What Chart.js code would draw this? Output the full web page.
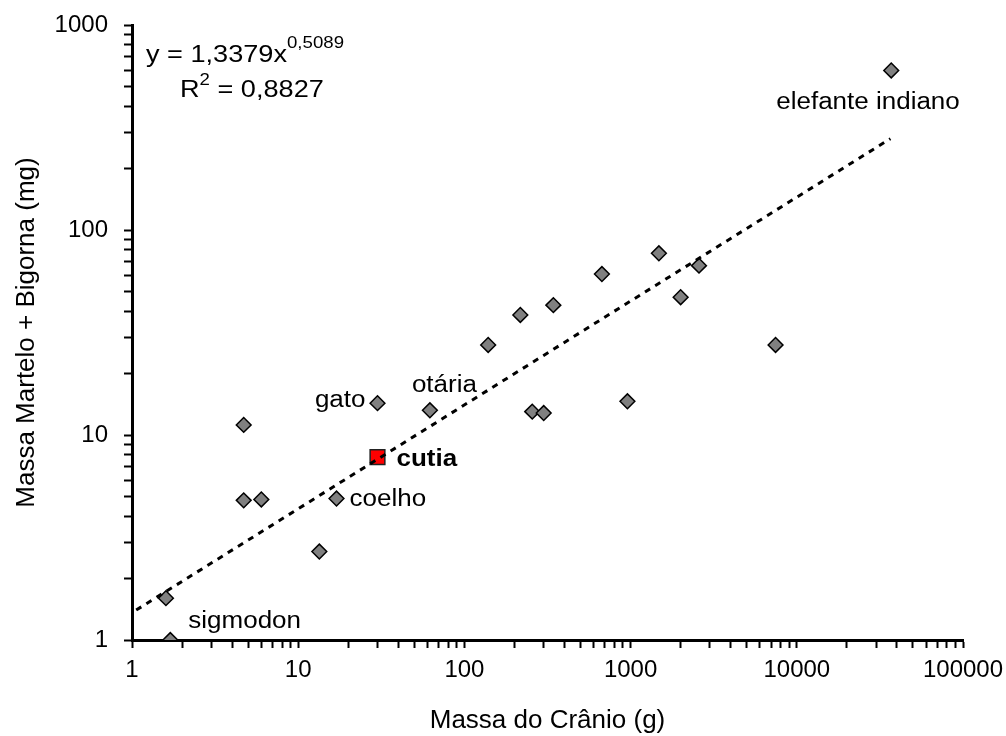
<html>
  <head>
    <script src="https://cdn.jsdelivr.net/npm/chart.js@4"></script>
    <title>Massa do Crânio x Massa Martelo + Bigorna</title>
    <style>
      body { margin: 0; background: #fff; }
    </style>
  </head>
  <body>
<canvas id="myChart" width="1006" height="736"></canvas>

    <script>
// massa do crânio (g) e massa martelo + bigorna (mg)
const skullMass   = [1.7, 1.6, 4.7, 4.7, 6.0, 13.4, 17, 30, 62, 139, 217, 343, 672, 1480, 2000, 2580, 7450, 256, 300, 957, 37000];
const ossicleMass = [1.0, 1.6, 11.2, 4.8, 4.85, 2.7, 4.9, 14.3, 13.2, 27.5, 38.5, 43, 61, 77, 47, 67, 27.5, 13, 12.8, 14.6, 600];

// cutia (ponto em destaque)
const cutiaSkull   = [30];
const cutiaOssicle = [7.8];

// linha de tendência (potência) - pontas
const trendX = [1.06, 36600];
const trendY = [1.40, 279];

// nomes das espécies e índice do ponto correspondente
const speciesNames = ['sigmodon', 'coelho', 'gato', 'otária', 'elefante indiano'];
const speciesIndex = [0, 6, 7, 8, 20];

const equationText = ['y = 1,3379x', '0,5089'];
const r2Text = ['R', '2', ' = 0,8827'];

const xTickValues = [1, 10, 100, 1000, 10000, 100000];
const yTickValues = [1, 10, 100, 1000];

const FONT = '"Liberation Sans", Arial, Helvetica, sans-serif';
const SX = 1.13; // o texto do original é um pouco esticado na horizontal

function minorTicks(maxPow) {
  let t = [];
  for (let p = 0; p < maxPow; p++) {
    for (let m = 1; m < 10; m++) t.push({ value: m * Math.pow(10, p) });
  }
  t.push({ value: Math.pow(10, maxPow) });
  return t;
}

// offsets dos rótulos (px) em relação ao ponto
const labelStyle = {
  'sigmodon':         { dx: 18,   dy: -18, align: 'left' },
  'coelho':           { dx: 13,   dy: 1,   align: 'left' },
  'gato':             { dx: -12,  dy: -2,  align: 'right' },
  'otária':           { dx: -18,  dy: -25, align: 'left' },
  'elefante indiano': { dx: -115, dy: 32,  align: 'left' }
};

function drawText(ctx, txt, x, y, font, align) {
  ctx.save();
  ctx.font = font;
  ctx.textAlign = align || 'left';
  ctx.textBaseline = 'middle';
  ctx.translate(x, y);
  ctx.scale(SX, 1);
  ctx.fillText(txt, 0, 0);
  const w = ctx.measureText(txt).width * SX;
  ctx.restore();
  return w;
}

const textPlugin = {
  id: 'textPlugin',
  afterDatasetsDraw(chart) {
    const ctx = chart.ctx;
    const xs = chart.scales.x, ys = chart.scales.y;
    ctx.save();
    ctx.fillStyle = '#000';
    for (let i = 0; i < speciesNames.length; i++) {
      const name = speciesNames[i];
      const k = speciesIndex[i];
      const st = labelStyle[name];
      const px = xs.getPixelForValue(skullMass[k]);
      const py = ys.getPixelForValue(ossicleMass[k]);
      drawText(ctx, name, px + st.dx, py + st.dy, '23px ' + FONT, st.align);
    }
    // cutia em negrito
    drawText(ctx, 'cutia', xs.getPixelForValue(cutiaSkull[0]) + 19, ys.getPixelForValue(cutiaOssicle[0]) + 3, 'bold 23px ' + FONT);

    // equação
    const a = chart.chartArea;
    let x0 = a.left + 14, y0 = a.top + 30;
    let w = drawText(ctx, equationText[0], x0, y0, '24px ' + FONT);
    drawText(ctx, equationText[1], x0 + w, y0 - 11.5, '16.5px ' + FONT);

    x0 = a.left + 48; y0 = a.top + 65;
    w = drawText(ctx, r2Text[0], x0, y0, '24px ' + FONT);
    w += drawText(ctx, r2Text[1], x0 + w, y0 - 10, '16.5px ' + FONT);
    drawText(ctx, r2Text[2], x0 + w, y0, '24px ' + FONT);
    ctx.restore();
  }
};

var canvas = document.getElementById("myChart");
var myChart = new Chart(canvas, {
  type: "scatter",
  plugins: [textPlugin],
  data: {
    datasets: [
      {
        type: 'line',
        data: trendX.map((v, i) => ({ x: v, y: trendY[i] })),
        borderColor: '#000',
        borderWidth: 3,
        borderDash: [6, 6],
        pointRadius: 0,
        fill: false
      },
      {
        data: cutiaSkull.map((v, i) => ({ x: v, y: cutiaOssicle[i] })),
        pointStyle: 'rect',
        pointRadius: 10.4,
        backgroundColor: '#ff0000',
        borderColor: '#222',
        borderWidth: 1.5
      },
      {
        data: skullMass.map((v, i) => ({ x: v, y: ossicleMass[i] })),
        pointStyle: 'rectRot',
        pointRadius: 7.4,
        backgroundColor: '#808080',
        borderColor: '#000',
        borderWidth: 1.5
      }
    ]
  },
  options: {
    responsive: false,
    animation: false,
    events: [],
    layout: { padding: { top: 25, right: 43, left: 0, bottom: 0 } },
    plugins: {
      legend: { display: false },
      tooltip: { enabled: false }
    },
    scales: {
      x: {
        type: 'logarithmic',
        min: 1,
        max: 100000,
        afterBuildTicks: (s) => { s.ticks = minorTicks(5); },
        afterFit: (s) => { s.height = 96; s.paddingLeft = 0; s.paddingRight = 0; },
        grid: { drawOnChartArea: false, tickLength: 8, tickWidth: 2, tickColor: '#000' },
        border: { color: '#000', width: 3 },
        ticks: {
          autoSkip: false,
          maxRotation: 0,
          padding: 8,
          color: '#000',
          font: { family: FONT, size: 24 },
          callback: (v) => xTickValues.includes(v) ? String(v) : ''
        },
        title: {
          display: true,
          text: 'Massa do Crânio (g)',
          color: '#000',
          font: { family: FONT, size: 26 },
          padding: { top: 0, bottom: 0 }
        }
      },
      y: {
        type: 'logarithmic',
        min: 1,
        max: 1000,
        afterBuildTicks: (s) => { s.ticks = minorTicks(3); },
        afterFit: (s) => { s.width = 132; s.paddingTop = 0; s.paddingBottom = 0; },
        grid: { drawOnChartArea: false, tickLength: 8, tickWidth: 2, tickColor: '#000' },
        border: { color: '#000', width: 3 },
        ticks: {
          autoSkip: false,
          padding: 16,
          color: '#000',
          font: { family: FONT, size: 24 },
          callback: (v) => yTickValues.includes(v) ? String(v) : ''
        },
        title: {
          display: true,
          text: 'Massa Martelo + Bigorna (mg)',
          color: '#000',
          font: { family: FONT, size: 26 },
          padding: { top: 11, bottom: 0 }
        }
      }
    }
  }
});
    </script>
  </body>
</html>
